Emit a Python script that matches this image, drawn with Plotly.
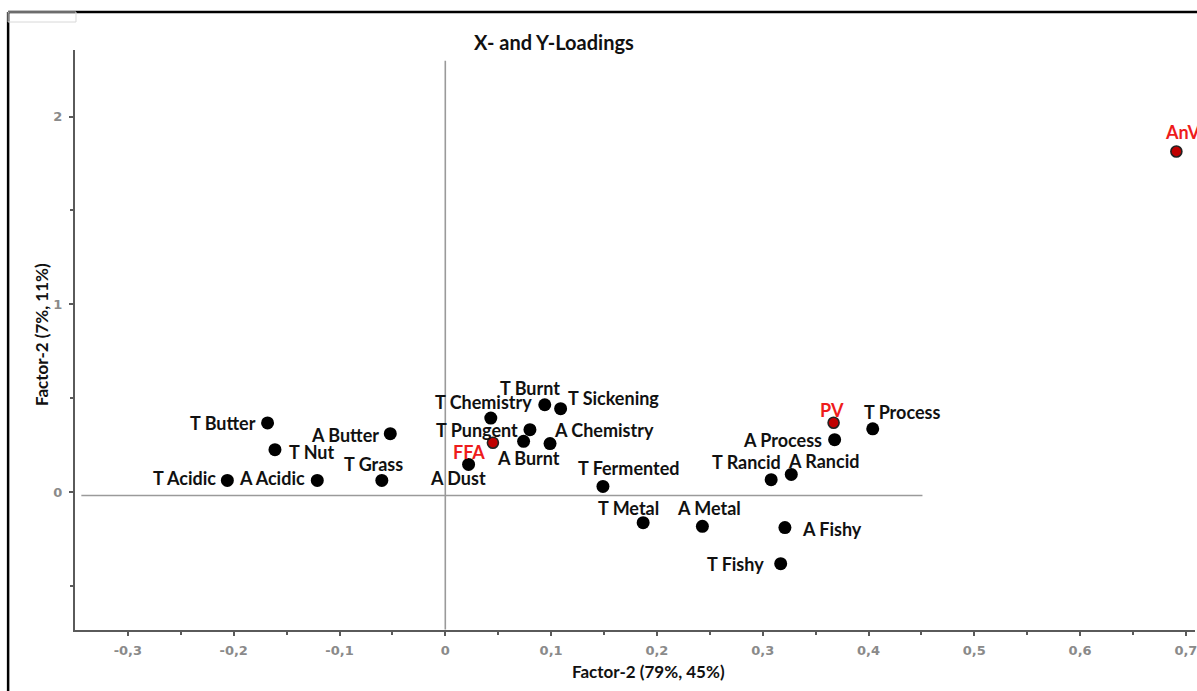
import plotly.graph_objects as go

# Sensory attribute loadings (X-loadings)
sensory_names = [
    "T Butter", "T Nut", "T Acidic", "A Acidic", "A Butter", "T Grass",
    "A Dust", "T Chemistry", "T Burnt", "T Sickening", "T Pungent",
    "A Chemistry", "A Burnt", "T Fermented", "T Metal", "A Metal",
    "A Fishy", "T Fishy", "T Rancid", "A Rancid", "A Process", "T Process",
]
sensory_x = [
    -0.168, -0.161, -0.206, -0.121, -0.052, -0.060,
    0.022, 0.043, 0.094, 0.109, 0.080,
    0.099, 0.074, 0.149, 0.187, 0.243,
    0.321, 0.317, 0.308, 0.327, 0.368, 0.404,
]
sensory_y = [
    0.369, 0.227, 0.063, 0.063, 0.312, 0.063,
    0.148, 0.395, 0.466, 0.445, 0.333,
    0.259, 0.271, 0.031, -0.162, -0.181,
    -0.188, -0.380, 0.067, 0.095, 0.280, 0.338,
]

# Chemical response loadings (Y-loadings)
chem_names = ["FFA", "PV", "AnV"]
chem_x = [0.045, 0.367, 0.691]
chem_y = [0.264, 0.370, 1.814]

# Tick labels (comma decimal separator)
x_tick_vals = [-0.3, -0.2, -0.1, 0, 0.1, 0.2, 0.3, 0.4, 0.5, 0.6, 0.7]
x_tick_text = ["-0,3", "-0,2", "-0,1", "0", "0,1", "0,2", "0,3", "0,4", "0,5", "0,6", "0,7"]
y_tick_vals = [0, 1, 2]
y_tick_text = ["0", "1", "2"]

# label placement: (xanchor, dx px, dy px down)
label_place = {
    "T Butter": ("right", -10, 0), "T Nut": ("left", 12, 2),
    "T Acidic": ("right", -9, -2), "A Acidic": ("right", -10, -2),
    "A Butter": ("right", -9, 1), "T Grass": ("center", -8, -16),
    "A Dust": ("center", -11, 14), "FFA": ("right", -6, 9),
    "T Chemistry": ("center", -7, -16), "T Burnt": ("center", -15, -17),
    "T Sickening": ("left", 5, -11), "T Pungent": ("right", -10, 0),
    "A Chemistry": ("left", 2, -14), "A Burnt": ("center", 5, 17),
    "T Fermented": ("center", 26, -18), "PV": ("center", -2, -13),
    "T Process": ("center", 29, -17), "A Process": ("right", -11, 0),
    "T Rancid": ("center", -25, -18), "A Rancid": ("center", 32, -13),
    "T Metal": ("center", -15, -15), "A Metal": ("center", 7, -18),
    "A Fishy": ("left", 15, 1), "T Fishy": ("right", -15, 0),
    "AnV": ("left", -13, -19),
}

LABEL_FONT = dict(family="Lato, Open Sans, sans-serif", size=18, weight="bold")
AXIS_GRAY = "#5a5a5a"

fig = go.Figure()

fig.add_trace(go.Scatter(
    x=sensory_x, y=sensory_y, mode="markers",
    marker=dict(size=13, color="black", line=dict(width=0)),
    hovertext=sensory_names, showlegend=False, cliponaxis=False,
))
fig.add_trace(go.Scatter(
    x=chem_x, y=chem_y, mode="markers",
    marker=dict(size=11, color="#c00000", line=dict(width=1.6, color="#222222")),
    hovertext=chem_names, showlegend=False, cliponaxis=False,
))

annotations = []
for names, xs, ys, color in [
    (sensory_names, sensory_x, sensory_y, "#111111"),
    (chem_names, chem_x, chem_y, "#ee1c1c"),
]:
    for n, xv, yv in zip(names, xs, ys):
        anchor, dx, dy = label_place[n]
        annotations.append(dict(
            x=xv, y=yv, xref="x", yref="y", text=n, showarrow=False,
            xanchor=anchor, yanchor="middle", xshift=dx, yshift=-dy,
            font=dict(color=color, **LABEL_FONT),
        ))

# chart title and axis titles (positions in page pixels, converted below)
page_texts = [
    dict(text="X- and Y-Loadings", x=555, y=42, size=20, angle=0),
    dict(text="Factor-2 (79%, 45%)", x=650, y=671, size=17, angle=0),
    dict(text="Factor-2 (7%, 11%)", x=41, y=335, size=17, angle=-90),
]

W, H = 1197, 691
ML, MR, MT, MB = 75, 0, 50, 61
PW, PH = W - ML - MR, H - MT - MB


def px_to_paper(px, py):
    return (px - ML) / PW, (H - MB - py) / PH


for t in page_texts:
    px, py = px_to_paper(t["x"], t["y"])
    annotations.append(dict(
        text=t["text"], x=px, y=py, xref="paper", yref="paper",
        xanchor="center", yanchor="middle", showarrow=False, textangle=t["angle"],
        font=dict(size=t["size"], color="#111111", family="Lato, sans-serif", weight="bold"),
    ))

shapes = [
    # origin reference lines
    dict(type="line", xref="x", yref="y", x0=0, x1=0, y0=2.297, y1=-0.73,
         line=dict(color="#9a9a9a", width=1.6)),
    dict(type="line", xref="x", yref="y", x0=-0.344, x1=0.451, y0=-0.017, y1=-0.017,
         line=dict(color="#9a9a9a", width=1.6)),
]
# outer frame
fx0, fy0 = px_to_paper(8, 12)
fx1, fy1 = px_to_paper(1200, 700)
shapes += [
    dict(type="line", xref="paper", yref="paper", x0=fx0, x1=fx1, y0=fy0, y1=fy0,
         line=dict(color="black", width=2.5)),
    dict(type="line", xref="paper", yref="paper", x0=fx0, x1=fx0, y0=fy0, y1=fy1,
         line=dict(color="black", width=2.5)),
]
bx0, by0 = px_to_paper(8, 12)
bx1, by1 = px_to_paper(76, 22)
shapes.append(dict(type="rect", xref="paper", yref="paper", x0=bx0, x1=bx1, y0=by1, y1=by0,
                   line=dict(color="#d8d8d8", width=1)))

tick_font = dict(family="DejaVu Sans, sans-serif", size=13,
                 color="#8a8a8a", weight="bold")

fig.update_layout(
    width=W, height=H,
    margin=dict(l=ML, r=MR, t=MT, b=MB, pad=0),
    paper_bgcolor="white", plot_bgcolor="white",
    annotations=annotations, shapes=shapes,
    xaxis=dict(
        range=[-0.35, 0.7086], showgrid=False, zeroline=False,
        showline=True, linecolor=AXIS_GRAY, linewidth=2,
        tickvals=x_tick_vals, ticktext=x_tick_text, tickfont=tick_font,
        ticklabeloverflow="allow", ticklabelstandoff=3,
        ticks="outside", ticklen=4, tickwidth=1.5, tickcolor=AXIS_GRAY,
        minor=dict(tickvals=[-0.25, -0.15, -0.05, 0.05, 0.15, 0.25, 0.35, 0.45, 0.55, 0.65],
                   ticks="outside", ticklen=3, tickwidth=1.5, tickcolor=AXIS_GRAY),
        fixedrange=True,
    ),
    yaxis=dict(
        range=[-0.733, 2.354], showgrid=False, zeroline=False,
        showline=True, linecolor=AXIS_GRAY, linewidth=2,
        tickvals=y_tick_vals, ticktext=y_tick_text, tickfont=tick_font,
        ticklabelstandoff=4,
        ticks="outside", ticklen=4, tickwidth=1.5, tickcolor=AXIS_GRAY,
        minor=dict(tickvals=[-0.5, 0.5, 1.5],
                   ticks="outside", ticklen=3, tickwidth=1.5, tickcolor=AXIS_GRAY),
        fixedrange=True,
    ),
)

fig.write_html("out.html")
